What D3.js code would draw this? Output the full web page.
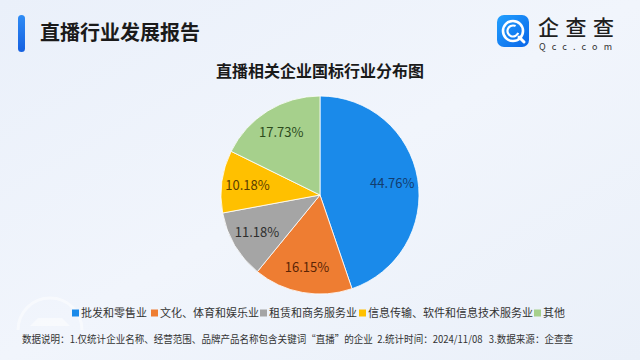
<!DOCTYPE html>
<html><head><meta charset="utf-8">
<script src="https://cdn.jsdelivr.net/npm/d3@7"></script>
<style>
html,body{margin:0;padding:0;}
svg{display:block;}
text{font-family:"Noto Sans CJK SC","Noto Sans",sans-serif;}
</style></head>
<body>
<script>
const categories = ["批发和零售业","文化、体育和娱乐业","租赁和商务服务业","信息传输、软件和信息技术服务业","其他"];
const values = [44.76, 16.15, 11.18, 10.18, 17.73];
const colors = ["#1a8aea","#ee7d32","#a5a5a5","#ffc000","#a6d08c"];
const labelColors = ["#123c6e","#5a2405","#2e2e2e","#5a3e00","#2c4a1c"];
const reportTitle = "直播行业发展报告";
const chartTitle = "直播相关企业国标行业分布图";
const note = "数据说明：1.仅统计企业名称、经营范围、品牌产品名称包含关键词“直播”的企业  2.统计时间：2024/11/08   3.数据来源：企查查";

const W = 640, H = 360;
const svg = d3.select("body").append("svg").attr("width", W).attr("height", H);
const defs = svg.append("defs");
const bg = defs.append("linearGradient").attr("id","bg").attr("x1","0").attr("y1","0").attr("x2","1").attr("y2","1");
bg.append("stop").attr("offset","0").attr("stop-color","#eaf0fa");
bg.append("stop").attr("offset","0.5").attr("stop-color","#f1f5fc");
bg.append("stop").attr("offset","1").attr("stop-color","#eaf0f9");
svg.append("rect").attr("width",W).attr("height",H).attr("fill","url(#bg)");

const bar = defs.append("linearGradient").attr("id","bar").attr("x1","0").attr("y1","0").attr("x2","0").attr("y2","1");
bar.append("stop").attr("offset","0").attr("stop-color","#2f8cf5");
bar.append("stop").attr("offset","1").attr("stop-color","#1560e0");
svg.append("rect").attr("x",18).attr("y",15).attr("width",7).attr("height",37).attr("rx",3.5).attr("fill","url(#bar)");
svg.append("text").attr("x",40).attr("y",40).attr("font-size",20).attr("font-weight",700).attr("fill","#1a1a1a").text(reportTitle);

// logo
const lg = defs.append("linearGradient").attr("id","lg").attr("x1","0").attr("y1","0").attr("x2","1").attr("y2","1");
lg.append("stop").attr("offset","0").attr("stop-color","#22a0ff");
lg.append("stop").attr("offset","1").attr("stop-color","#0a66e8");
const logo = svg.append("g").attr("transform","translate(497,15)");
logo.append("rect").attr("width",32).attr("height",32).attr("rx",7).attr("fill","url(#lg)");
logo.append("circle").attr("cx",16).attr("cy",16).attr("r",10).attr("fill","none").attr("stroke","#fff").attr("stroke-width",2.6);
logo.append("circle").attr("cx",16).attr("cy",16).attr("r",5.5).attr("fill","none").attr("stroke","#fff").attr("stroke-width",2.2).attr("stroke-dasharray","26 9").attr("transform","rotate(20,16,16)");
logo.append("line").attr("x1",22).attr("y1",22).attr("x2",27).attr("y2",27).attr("stroke","#fff").attr("stroke-width",3).attr("stroke-linecap","round");
svg.append("text").attr("x",538).attr("y",35).attr("font-size",21).attr("font-weight",500).attr("fill","#1f1f1f").attr("textLength",76).text("企查查");
svg.append("text").attr("x",539).attr("y",50).attr("font-size",9).attr("fill","#333").attr("textLength",73).attr("font-family","DejaVu Sans").text("Qcc.com");

// chart title
svg.append("text").attr("x",320).attr("y",77).attr("text-anchor","middle").attr("font-size",16).attr("font-weight",700).attr("fill","#1a1a1a").text(chartTitle);

// pie
const cx = 320, cy = 195, r = 99;
const data = categories.map((c,i)=>({c, v: values[i], i}));
const pie = d3.pie().value(d=>d.v).sort(null);
const arc = d3.arc().innerRadius(0).outerRadius(r);
const labelArc = d3.arc().innerRadius(r*0.74).outerRadius(r*0.74);
const g = svg.append("g").attr("transform",`translate(${cx},${cy})`);
const arcs = pie(data);
g.selectAll("path").data(arcs).join("path")
  .attr("d",arc).attr("fill",d=>colors[d.data.i]).attr("stroke","#fff").attr("stroke-width",0.8);
g.selectAll("text.lbl").data(arcs).join("text").attr("class","lbl")
  .attr("transform",d=>`translate(${labelArc.centroid(d)})`)
  .attr("text-anchor","middle").attr("dy","0.35em").attr("font-size",13)
  .attr("font-family","Noto Sans, sans-serif")
  .attr("fill",d=>labelColors[d.data.i]).text(d=>d3.format(".2f")(d.data.v)+"%");

// watermark (faint, behind legend)
const wm = svg.append("g").attr("opacity",0.5);
wm.append("path").attr("d","M18,330 A32,32 0 0 1 82,330").attr("fill","none").attr("stroke","#ffffff").attr("stroke-width",3);
wm.append("path").attr("d","M30,326 L70,326 L62,318 L38,318 Z").attr("fill","#ffffff");

// legend
const legendX = [72,151,260,359,534];
const leg = svg.append("g");
categories.forEach((c,i)=>{
  leg.append("rect").attr("x",legendX[i]).attr("y",309.5).attr("width",7).attr("height",7).attr("fill",colors[i]);
  leg.append("text").attr("x",legendX[i]+9).attr("y",317).attr("font-size",11).attr("fill","#333").text(c);
});

// note
svg.append("text").attr("x",22).attr("y",343).attr("font-size",10).attr("fill","#333")
  .attr("textLength",551).attr("lengthAdjust","spacingAndGlyphs")
  .style("white-space","pre").text(note);
</script>
</body></html>
